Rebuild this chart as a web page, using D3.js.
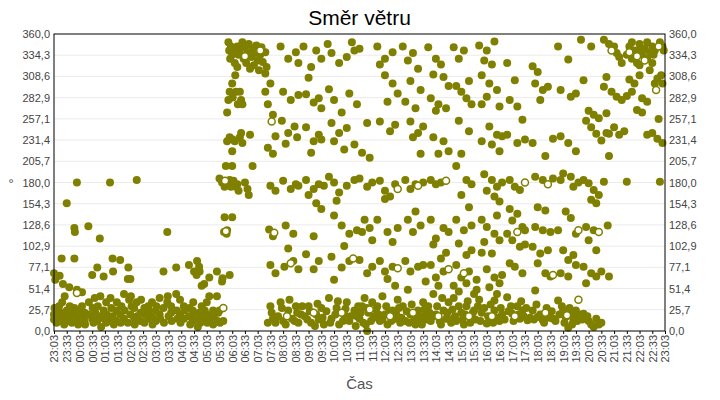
<!DOCTYPE html>
<html><head><meta charset="utf-8">
<script src="https://cdn.jsdelivr.net/npm/d3@7"></script>
<style>body{margin:0;background:#fff}svg{display:block}</style>
</head><body><svg id="c" width="720" height="400"></svg>
<script>
const title = "Směr větru";
const xTitle = "Čas";
const yTitle = "°";
const yTicks = [0,25.714,51.429,77.143,102.857,128.571,154.286,180,205.714,231.429,257.143,282.857,308.571,334.286,360];
const yTickLabels = ["0,0","25,7","51,4","77,1","102,9","128,6","154,3","180,0","205,7","231,4","257,1","282,9","308,6","334,3","360,0"];
const xTickLabels = ["23:03","23:33","00:03","00:33","01:03","01:33","02:03","02:33","03:03","03:33","04:03","04:33","05:03","05:33","06:03","06:33","07:03","07:33","08:03","08:33","09:03","09:33","10:03","10:33","11:03","11:33","12:03","12:33","13:03","13:33","14:03","14:33","15:03","15:33","16:03","16:33","17:03","17:33","18:03","18:33","19:03","19:33","20:03","20:33","21:03","21:33","22:03","22:33","23:03"];
// [hours after 23:03, direction °, hollow]
const nightObs = [
[0,20],[0,14],[0.02,28],[0,70],[0.05,62],[0.1,18],[0.1,10],[0.12,25],[0.2,12],[0.2,30],[0.22,67],[0.25,22],[0.3,88],[0.3,15],[0.32,35],[0.35,57],[0.4,20],[0.4,8],[0.42,42],[0.5,155],[0.5,25],[0.52,12],[0.6,18],[0.6,53],[0.62,30],[0.7,10],[0.7,22],[0.72,15],[0.8,125],[0.82,120],[0.8,88],[0.8,28],[0.85,12],[0.9,180],[0.9,50],[0.9,46,1],[0.92,20],[0.95,8],[1,15],[1,25],[1.02,10],[1.1,47],[1.1,30],[1.12,18],[1.2,12],[1.2,22],[1.22,8],[1.35,127],[1.35,20],[1.37,35],[1.5,68],[1.5,15],[1.52,28],[1.55,10],[1.6,40],[1.62,22],[1.7,77],[1.7,12],[1.72,30],[1.8,112],[1.8,18],[1.82,42],[1.85,5],[1.95,66],[1.95,25],[1.97,15],[2.05,10],[2.05,35],[2.07,20],[2.2,180],[2.2,12],[2.22,40],[2.25,28],[2.3,88],[2.32,72],[2.3,18],[2.35,8],[2.45,25],[2.45,12],[2.47,35],[2.6,86],[2.6,20],[2.62,10],[2.65,30],[2.75,15],[2.75,45],[2.77,25],[2.9,63],[2.92,77],[2.9,10],[2.95,38],[3.0,63],[3.0,20],[3.02,42],[3.05,30],[3.15,15],[3.15,28],[3.17,8],[3.25,183],[3.25,35],[3.27,18],[3.4,22],[3.4,12],[3.42,38],[3.55,10],[3.55,28],[3.57,20],[3.7,30],[3.7,15],[3.72,25],[3.85,18],[3.85,35],[3.87,8],[4.0,25],[4.0,12],[4.02,30],[4.15,40],[4.15,20],[4.17,15],[4.3,72],[4.3,28],[4.32,10],[4.45,120],[4.45,35],[4.47,42],[4.5,18],[4.6,22],[4.6,30],[4.62,12],[4.8,77],[4.8,45],[4.82,25],[4.85,15],[4.95,20],[4.95,38],[4.97,10],[5.1,30],[5.1,15],[5.12,25],[5.3,80],[5.3,18],[5.32,28],[5.35,8],[5.45,12],[5.45,25],[5.47,35],[5.5,72],[5.52,20],[5.6,68],[5.62,85],[5.6,15],[5.65,5],[5.7,78],[5.72,72],[5.7,22],[5.75,10],[5.8,55],[5.8,30],[5.82,18],[5.9,57],[5.9,12],[5.92,25],[6.0,35],[6.0,20],[6.02,10],[6.1,65],[6.1,42],[6.12,15],[6.25,25],[6.25,8],[6.27,18],[6.4,72],[6.4,42],[6.42,12],[6.45,22],[6.5,185],[6.5,25],[6.52,10],[6.6,60],[6.62,64],[6.6,180],[6.65,28,1],[6.65,12]
];
const dayObs = [
[6.7,175],[6.72,182,1],[6.7,138],[6.68,120],[6.75,200],[6.78,118],[6.75,121,1],[6.8,230],[6.8,265],[6.85,280],[6.85,350],[6.88,340],[6.82,178],[6.8,122],[6.9,235],[6.9,290],[6.92,330],[6.95,345],[6.9,183],[6.95,175],[6.9,68],[7.0,335],[7.0,300],[7.02,283],[7.02,232],[7.0,218],[7.05,178],[7.05,182],[7.1,340],[7.1,325],[7.12,310],[7.1,230],[7.15,175],[7.15,290],[7.2,320],[7.2,345],[7.22,275],[7.2,178],[7.25,170],[7.25,335],[7.3,290],[7.35,280],[7.4,275],[7.3,235],[7.35,240],[7.4,228],[7.7,238],[7.5,180],[7.6,172],[7.65,165],[7.0,200],[7.8,200],[7.0,138],[7.3,340],[7.4,350],[7.45,330],[7.5,345],[7.55,325],[7.6,338],[7.65,348],[7.7,318],[7.75,332],[7.8,342],[7.85,322],[7.9,337],[7.95,346],[8.0,328],[8.05,316],[8.1,335],[8.15,344],[8.2,326],[8.3,338],[8.35,320],[7.5,333,1],[8.1,340,1],[8.4,10],
[8.3,312],[8.5,300],[8.3,290],[8.4,275],[8.6,262],[8.55,254,1],[8.7,236],[8.4,222],[8.6,215],[8.5,176],[8.7,170],[8.45,123],[8.6,115],[8.65,119,1],[8.5,80],[8.7,70],[8.5,30],[8.6,15],[8.7,10],[8.55,22],
[8.9,345],[9.2,330],[9.5,338],[9.6,325],[9.0,290],[9.3,280],[9.6,286],[8.95,255],[9.2,240],[9.45,248],[9.55,235],[9.1,227],[9.0,182],[9.3,172],[9.5,178],[9.6,176],[9.1,128],[9.4,118],[9.2,100],[9.4,85],[9.6,75],[9.05,78],[9.3,82,1],[8.9,35],[9.0,12],[9.2,25],[9.35,15],[9.5,30],[9.6,10],[9.7,20],[9.15,18,1],
[9.8,345],[10.1,320],[10.3,340],[10.5,330],[10.0,307],[9.9,287],[10.2,277],[10.4,282],[10.5,270],[9.9,247],[10.2,230],[10.4,238],[10.5,232],[10.1,216],[9.9,183],[10.2,172],[10.4,178],[10.6,176],[10.0,165],[10.3,155],[10.5,148],[10.2,115],[9.9,93],[10.2,75],[10.4,85],[10.0,30],[10.1,10],[10.3,20],[10.4,14],[10.5,28],[10.6,8],[9.85,18],[10.2,22,1],
[10.75,348],[10.9,337],[11.2,325],[11.5,332],[11.8,340],[10.8,293],[11.0,280],[11.3,265],[11.6,288],[11.9,275],[10.9,252],[11.2,240],[11.5,246],[11.0,230],[11.4,220],[11.8,226],[10.8,187],[11.0,180],[11.2,168],[11.5,176],[11.8,183],[11.1,158],[11.0,140],[11.3,128],[11.6,118],[11.9,122],[11.4,103],[10.9,90],[11.3,77],[11.6,85],[11.75,88,1],[11.0,62],[10.8,40],[10.9,15],[11.1,28],[11.2,8],[11.4,20],[11.5,35],[11.6,12],[11.8,25],[11.9,18],[11.3,22,1],
[11.7,350],[12.0,342],[12.3,252],[12.1,216],[12.4,210],[12.0,185],[12.3,175],[12.5,180],[12.2,135],[12.4,125],[12.1,120],[12.5,110],[12.0,86],[12.3,70],[12.5,78],[12.2,40],[12.0,15],[12.1,30],[12.25,8],[12.35,22],[12.45,12],[12.5,35],[12.6,18],[12.3,0],[12.4,26,1],
[12.7,345],[13.0,330],[13.3,338],[12.8,323],[13.0,310],[13.3,300],[13.5,288],[13.1,278],[12.8,254],[13.2,242],[13.4,250],[12.8,182],[13.0,170],[13.2,163],[13.4,178],[13.5,172,1],[13.0,160],[12.7,135],[13.1,120],[13.3,108],[13.5,125],[12.8,85],[13.0,72],[13.3,78],[13.5,76,1],[13.1,63],[12.7,30],[12.8,12],[13.0,20],[13.1,8],[13.3,25],[13.4,15],[13.5,38],[13.6,10],[13.2,18,1],
[13.7,345],[14.1,337],[13.9,328],[14.3,318],[14.0,303],[14.4,292],[13.8,278],[14.2,270],[14.0,254],[14.3,240],[14.5,248],[14.1,235],[14.4,215],[13.8,183],[14.0,172],[14.2,178],[14.5,180],[14.3,176,1],[14.2,145],[13.9,135],[14.1,120],[14.4,128],[13.8,85],[14.0,72],[14.3,78],[14.5,80],[13.7,30],[13.8,12],[14.0,20],[14.2,8],[14.3,25],[14.4,15],[14.5,35],[14.6,20],[14.1,22,1],
[14.7,344],[15.0,330],[15.2,323],[14.9,311],[15.3,308],[15.5,297],[14.8,282],[15.1,275],[15.4,270],[15.0,267],[14.9,235],[15.3,230],[15.5,218],[15.1,215],[14.8,183],[15.0,178],[15.2,180],[15.4,182,1],[14.8,135],[15.0,112],[15.3,125],[15.5,120],[14.9,105],[15.2,88],[15.4,95],[14.8,80],[15.0,65],[15.3,72],[15.5,75,1],[15.1,55],[14.7,30],[14.8,12],[15.0,20],[15.2,8],[15.3,25],[15.4,15],[15.5,35],[15.6,10],[15.1,18,1],
[15.7,344],[16.1,340],[15.9,330],[16.3,303],[15.8,297],[16.0,290],[16.4,275],[16.2,282],[15.9,255],[16.3,242],[16.0,215],[15.8,200],[16.2,183],[16.4,178],[16.0,165],[16.3,150],[15.8,135],[16.1,122],[16.4,128],[15.9,106],[16.2,92],[16.4,98],[15.8,80],[16.0,65],[16.3,72],[16.1,70,1],[15.7,40],[15.8,12],[16.0,22],[16.1,8],[16.2,30],[16.4,15],[16.5,25],[16.6,50],[16.3,18,1],
[16.7,346],[17.0,340],[17.3,351],[16.9,328],[17.2,323],[16.8,310],[17.1,300],[17.4,292],[17.0,284],[16.8,275],[17.5,272],[17.1,248],[17.4,238],[17.6,236],[16.8,230],[17.2,226],[17.5,218],[16.9,190],[17.2,183],[17.4,175],[17.6,180],[17.0,170],[17.3,163],[17.5,157],[16.8,135],[17.0,126],[17.3,118],[17.5,110],[17.4,140],[16.9,108],[17.2,94],[16.8,95],[17.0,75],[17.3,65],[17.5,58],[17.6,68],[17.1,53],[17.3,37],[16.8,22],[17.0,9],[17.1,15],[17.3,25],[17.5,12],[17.6,20],[17.2,18,1],
[17.8,325],[18.1,304],[17.9,280],[18.2,272],[18.4,256],[17.8,238],[18.2,228],[18.5,232],[17.9,183],[18.1,175],[18.3,171],[18.5,180,1],[17.9,148],[18.2,142],[18.0,134],[18.4,126],[17.8,118],[18.2,120,1],[18.5,122],[18.0,110],[18.3,102],[18.5,105],[17.9,82],[18.1,78],[18.4,70],[17.8,41],[18.0,21],[18.2,30],[18.3,15],[18.4,25],[18.6,13],[18.1,18,1],
[18.8,321],[19.0,314],[18.9,300],[19.2,292],[19.4,296],[19.1,280],[18.8,228],[19.3,212],[19.6,233],[18.9,187],[19.2,183],[19.4,178,1],[19.6,185],[19.0,150],[19.3,146],[18.9,126],[19.2,122],[19.5,120],[18.8,102],[19.1,94],[19.4,98],[19.0,82],[19.3,70],[19.5,66],[19.6,68,1],[18.9,49],[18.8,25],[19.0,17],[19.2,13],[19.4,20],[19.6,15],[19.3,22,1],
[19.8,345],[20.2,329],[19.9,292],[20.3,284],[20.5,288],[19.9,236],[20.2,228],[20.5,218],[20.0,191],[20.3,187],[19.9,183],[20.4,175],[20.6,180],[20.1,145],[20.3,137],[19.8,122],[20.5,118],[20.6,122,1],[20.0,98],[20.2,86],[20.4,92],[19.9,70],[20.2,66],[20.5,80],[19.8,37],[20.0,25],[20.1,17],[20.2,4],[20.3,20],[20.4,14],[20.5,25],[20.6,38,1],[20.15,19,1],
[20.7,353],[21.1,345],[20.8,304],[21.0,267],[21.2,262],[21.4,258],[20.9,255],[21.1,247],[21.3,239],[21.5,231],[20.8,183],[21.0,179],[21.2,171],[21.4,165],[21.1,159],[21.3,155],[20.9,126],[21.2,122],[21.4,120,1],[21.0,110],[21.3,98],[20.8,78],[21.1,70],[21.3,66],[21.5,72],[20.9,58],[20.8,21],[21.0,12],[21.2,5],[21.3,15],[21.4,8],[21.5,10],
[21.6,353],[21.8,348],[22.0,345],[22.1,337],[21.9,340,1],[22.2,332],[22.3,325],[21.7,308],[21.6,296],[21.9,290],[22.1,284],[22.3,280],[21.7,264],[22.0,247],[21.8,239],[22.2,238],[22.4,242],[21.8,212],[21.6,181],[22.5,181],[21.75,128],[21.8,66],[21.7,240],
[22.5,335],[22.6,345],[22.7,330],[22.8,340],[22.9,325],[23.0,348],[23.1,335],[23.2,342],[23.3,330],[23.4,338],[23.5,345],[22.6,338,1],[22.9,333,1],[23.2,328,1],[23.5,325],[22.7,350],[23.0,322],[23.3,350],[23.6,340],[22.6,305],[22.8,300],[23.0,310],[23.4,316],[22.5,285],[22.7,290],[23.1,282],[23.3,278],[22.9,268],[23.1,265],[23.3,238],[23.5,240],[23.8,181],[23.7,233],[23.6,300],[23.8,350],[23.9,345],[23.95,340],[23.7,306],[23.85,310],[23.9,300],[23.75,257],[23.65,292,1],[23.9,228],[23.0,340],[23.55,335],[23.75,345,1]
];
// extra low-direction readings during the day
const dayLowObs = [
[8.8,18],[8.95,28],[9.1,8],[9.25,38],[9.45,12],[9.55,22],[9.75,30],[9.95,14],[10.05,24],[10.25,6],[10.35,33],[10.55,16],[10.7,24],[10.85,10],[11.05,20],[11.15,36],[11.35,12],[11.45,27],[11.65,18],[11.85,6],[11.95,30],[12.05,22],[12.15,10],[12.3,28],[12.55,16],[12.65,26],[12.75,20],[12.9,14],[13.05,30],[13.15,22],[13.25,12],[13.45,20],[13.55,28],[13.65,16],[13.85,24],[13.95,10],[14.05,32],[14.15,16],[14.35,18],[14.45,8],[14.55,26],[14.65,14],[14.75,22],[14.9,18],[15.05,30],[15.15,12],[15.25,40],[15.45,22],[15.55,14],[15.65,26],[15.75,18],[15.9,30],[16.05,14],[16.15,20],[16.25,36],[16.35,10],[16.45,22],[16.55,14],[16.65,30],[16.75,12],[16.9,28],[17.05,18],[17.15,32],[17.25,10],[17.4,16],[17.55,28],[17.7,14],[17.85,24],[17.95,30],[18.05,12],[18.25,20],[18.35,36],[18.45,18],[18.55,28],[18.7,16],[18.85,14],[18.95,32],[19.1,20],[19.25,10],[19.35,28],[19.45,16],[19.55,24],[19.7,12],[19.85,20],[19.95,30],[20.05,10],[20.25,28],[20.35,8],[20.45,18],[20.55,12],[20.65,20],[20.75,14],[20.95,18],[21.1,8],
[13.4,55],[14.6,60],[15.7,55],[16.5,45],[16.7,38],[15.9,48],[14.9,45],[13.9,50],[12.9,42],[16.6,62],[17.4,45],[16.2,58]
];
const points = nightObs.concat(dayObs, dayLowObs);

const W=720,H=400, m={l:54,r:55,t:34,b:69};
const svg=d3.select("#c");
const x=d3.scaleLinear().domain([0,24]).range([m.l,W-m.r]);
const y=d3.scaleLinear().domain([0,360]).range([H-m.b,m.t]);
const font="'Liberation Sans', Arial, sans-serif";

svg.append("g").selectAll("line").data(yTicks.slice(1,-1)).join("line")
 .attr("x1",m.l).attr("x2",W-m.r).attr("y1",d=>y(d)).attr("y2",d=>y(d))
 .attr("stroke","#ebebeb").attr("stroke-width",1);

const yl=d3.axisLeft(y).tickValues(yTicks).tickSize(0).tickPadding(4).tickFormat((d,i)=>yTickLabels[i]);
const yr=d3.axisRight(y).tickValues(yTicks).tickSize(0).tickPadding(4).tickFormat((d,i)=>yTickLabels[i]);
const xTickVals=xTickLabels.map((d,i)=>i*0.5);
const xa=d3.axisBottom(x).tickValues(xTickVals).tickSize(3).tickFormat((d,i)=>xTickLabels[i]);

const gy=svg.append("g").attr("transform",`translate(${m.l},0)`).call(yl);
const gyr=svg.append("g").attr("transform",`translate(${W-m.r},0)`).call(yr);
const gx=svg.append("g").attr("transform",`translate(0,${H-m.b})`).call(xa);
[gy,gyr,gx].forEach(g=>{g.select(".domain").remove();g.selectAll("text").attr("fill","#444").style("font-family",font).style("font-size","11px");g.selectAll("line").attr("stroke","#000");});
gx.selectAll("text").attr("transform","rotate(-90)").attr("text-anchor","end").attr("y",0).attr("x",-4).attr("dy","0.35em");

const pts=svg.append("g");
pts.selectAll("circle.f").data(points.filter(d=>!d[2])).join("circle").attr("class","f")
 .attr("cx",d=>x(d[0])).attr("cy",d=>y(d[1])).attr("r",4).attr("fill","#808000");
pts.selectAll("circle.h").data(points.filter(d=>d[2])).join("circle").attr("class","h")
 .attr("cx",d=>x(d[0])).attr("cy",d=>y(d[1])).attr("r",3.5).attr("fill","#fff").attr("stroke","#808000").attr("stroke-width",1.5);

svg.append("rect").attr("x",m.l).attr("y",m.t).attr("width",W-m.r-m.l).attr("height",H-m.b-m.t)
 .attr("fill","none").attr("stroke","#000").attr("stroke-width",1);

svg.append("text").attr("x",(m.l+W-m.r)/2).attr("y",25).attr("text-anchor","middle")
 .style("font-family",font).style("font-size","21px").attr("fill","#000").text(title);
svg.append("text").attr("x",(m.l+W-m.r)/2).attr("y",389).attr("text-anchor","middle")
 .style("font-family",font).style("font-size","15px").attr("fill","#555").text(xTitle);
svg.append("text").attr("x",11).attr("y",188).attr("text-anchor","middle")
 .style("font-family",font).style("font-size","13px").attr("fill","#444").text(yTitle);
</script></body></html>
